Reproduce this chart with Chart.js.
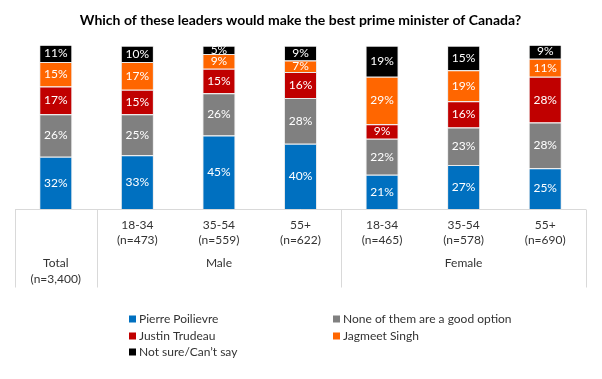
<!DOCTYPE html>
<html>
<head>
<meta charset="utf-8">
<script src="https://cdn.jsdelivr.net/npm/chart.js@4"></script>
<style>
  html, body { margin: 0; padding: 0; background: #fff; }
  #wrap { width: 602px; height: 379px; }
</style>
</head>
<body>
<div id="wrap"><canvas id="chart"></canvas></div>
<script>
const ageGroups = ['Total', '18-34', '35-54', '55+', '18-34', '35-54', '55+'];
const sampleSizes = ['(n=3,400)', '(n=473)', '(n=559)', '(n=622)', '(n=465)', '(n=578)', '(n=690)'];
const genderGroups = [
    { label: 'Male', from: 1, to: 3 },
    { label: 'Female', from: 4, to: 6 },
];

const poilievre = [32, 33, 45, 40, 21, 27, 25];
const noneGood = [26, 25, 26, 28, 22, 23, 28];
const trudeau = [17, 15, 15, 16, 9, 16, 28];
const singh = [15, 17, 9, 7, 29, 19, 11];
const notSure = [11, 10, 5, 9, 19, 15, 9];

const FONT = 'Lato, "Open Sans", sans-serif';
const textColor = '#333333';

function makeSet(label, data, color) {
    return {
        label: label,
        data: data,
        backgroundColor: color,
        borderColor: 'rgba(217, 217, 217, 0.55)',
        borderWidth: 1,
        barPercentage: 0.405,
        categoryPercentage: 1.0,
    };
}

// white % labels in the middle of each segment
const segmentLabels = {
    id: 'segmentLabels',
    afterDatasetsDraw(chart) {
        const ctx = chart.ctx;
        ctx.save();
        ctx.font = '12px ' + FONT;
        ctx.fillStyle = '#ffffff';
        ctx.textAlign = 'center';
        ctx.textBaseline = 'middle';
        chart.data.datasets.forEach((ds, i) => {
            const meta = chart.getDatasetMeta(i);
            meta.data.forEach((bar, j) => {
                const y = Math.max((bar.y + bar.base) / 2, chart.chartArea.top + 4);
                ctx.fillText(ds.data[j] + '%', bar.x, y);
            });
        });
        ctx.restore();
    }
};

// category table under the bars + legend
const bottomTable = {
    id: 'bottomTable',
    afterDraw(chart) {
        const ctx = chart.ctx;
        const x = chart.scales.x;
        const area = chart.chartArea;
        const step = x.getPixelForValue(1) - x.getPixelForValue(0);
        const top = area.bottom + 0.5;
        const lineBottom = top + 78;

        ctx.save();
        ctx.strokeStyle = '#d9d9d9';
        ctx.lineWidth = 1;
        ctx.beginPath();
        ctx.moveTo(area.left, top);
        ctx.lineTo(area.right, top);
        const edges = [0, 1, 4, 7];
        edges.forEach(k => {
            const px = Math.round(x.getPixelForValue(k) - step / 2) + 0.5;
            ctx.moveTo(px, top);
            ctx.lineTo(px, lineBottom);
        });
        ctx.stroke();

        ctx.font = '12px ' + FONT;
        ctx.fillStyle = textColor;
        ctx.textAlign = 'center';
        ctx.textBaseline = 'middle';
        ageGroups.forEach((lab, i) => {
            const px = x.getPixelForValue(i);
            if (i === 0) {
                ctx.fillText(lab, px, top + 54);
                ctx.fillText(sampleSizes[i], px, top + 70);
            } else {
                ctx.fillText(lab, px, top + 16);
                ctx.fillText(sampleSizes[i], px, top + 31);
            }
        });
        genderGroups.forEach(g => {
            const px = (x.getPixelForValue(g.from) + x.getPixelForValue(g.to)) / 2;
            ctx.fillText(g.label, px, top + 54);
        });

        // legend, two columns
        const cols = [132, 336];
        const rows = [319, 336, 352];
        ctx.textAlign = 'left';
        chart.data.datasets.forEach((ds, i) => {
            const cx = cols[i % 2];
            const cy = rows[Math.floor(i / 2)];
            ctx.fillStyle = ds.backgroundColor;
            ctx.fillRect(cx - 3, cy - 3.5, 7, 7);
            ctx.fillStyle = textColor;
            ctx.fillText(ds.label, cx + 7, cy);
        });
        ctx.restore();
    }
};

new Chart(document.getElementById('chart').getContext('2d'), {
    type: 'bar',
    data: {
        labels: ageGroups,
        datasets: [
            makeSet('Pierre Poilievre', poilievre, '#0070C0'),
            makeSet('None of them are a good option', noneGood, '#808080'),
            makeSet('Justin Trudeau', trudeau, '#C00000'),
            makeSet('Jagmeet Singh', singh, '#FF6600'),
            makeSet('Not sure/Can\u2019t say', notSure, '#000000'),
        ],
    },
    options: {
        responsive: true,
        maintainAspectRatio: false,
        animation: false,
        layout: {
            padding: { left: 15, right: 16, top: 0, bottom: 170 },
        },
        scales: {
            x: {
                stacked: true,
                display: false,
            },
            y: {
                stacked: true,
                display: false,
                min: 0,
                max: 100,
            },
        },
        plugins: {
            legend: { display: false },
            tooltip: { enabled: false },
            title: {
                display: true,
                text: 'Which of these leaders would make the best prime minister of Canada?',
                color: '#000000',
                font: { family: FONT, size: 14, weight: 'bold' },
                padding: { top: 12, bottom: 17 },
            },
        },
    },
    plugins: [segmentLabels, bottomTable],
});
</script>
</body>
</html>
